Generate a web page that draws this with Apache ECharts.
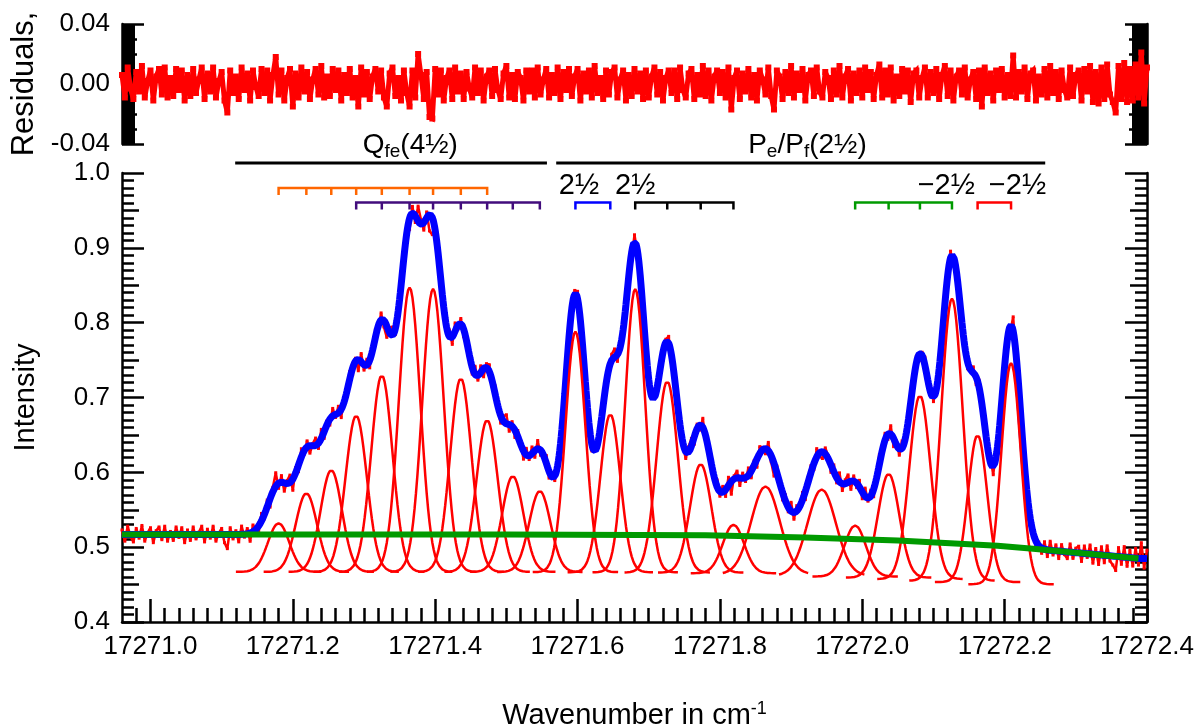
<!DOCTYPE html>
<html><head><meta charset="utf-8">
<script src="https://cdn.jsdelivr.net/npm/echarts@6/dist/echarts.min.js"></script>
<style>html,body{margin:0;padding:0;background:#fff}#c{width:1201px;height:728px}</style>
</head><body><div id="c"></div>
<script>
// ---------- data ----------
const xMin = 17270.96, xMax = 17272.40;
const xTickValues = [17271.0, 17271.2, 17271.4, 17271.6, 17271.8, 17272.0, 17272.2, 17272.4];
const intensityRange = [0.4, 1.0];
const residualRange = [-0.04, 0.04];

const peakCenters = [17271.180,17271.219,17271.254,17271.289,17271.325,17271.364,17271.397,17271.436,17271.473,17271.509,17271.547,
  17271.597,17271.646,17271.681,17271.726,17271.773,17271.819,17271.864,17271.943,17271.990,17272.037,17272.081,17272.126,17272.162,17272.209];
const peakTops = [0.532,0.572,0.603,0.676,0.730,0.847,0.845,0.726,0.670,0.595,0.575,
  0.788,0.678,0.845,0.722,0.611,0.530,0.581,0.577,0.529,0.598,0.703,0.832,0.650,0.746];
const peakSigmas = [0.015,0.015,0.015,0.015,0.015,0.015,0.015,0.015,0.015,0.015,0.015,
  0.014,0.014,0.014,0.015,0.015,0.015,0.020,0.020,0.015,0.015,0.015,0.015,0.0135,0.0135];

const baselineX = [17270.96,17271.50,17271.78,17271.92,17272.05,17272.19,17272.24,17272.29,17272.388];
const baselineY = [0.517,0.517,0.516,0.513,0.509,0.502,0.498,0.4935,0.485];

// residuals (units of 0.001), sampled every 0.004 cm-1 from xMin
const residualStep = 0.004;
const residuals = [
6,-9,11,-3,-10,8,-5,12,-9,2,9,-11,5,10,-7,11,-9,4,-8,10,
-4,9,-11,6,-8,10,-6,3,11,-10,7,-5,11,-9,2,8,-11,-19,9,-6,
5,-10,11,-4,7,-11,9,-2,-8,10,-6,9,-11,6,18,-7,9,-11,4,10,
-15,7,-9,11,-5,8,-10,3,10,-7,12,-9,5,-8,10,-4,9,-11,6,-6,
10,-9,4,-15,11,-7,8,-10,5,10,-5,9,-9,-15,7,11,-8,4,-11,9,
-6,-15,9,-9,20,6,-10,8,-22,-23,10,-7,9,-11,4,9,-10,11,-5,7,
-10,8,-3,-9,11,-6,9,-11,5,9,-8,10,-4,-10,7,12,-9,6,-10,8,
4,-11,9,-5,9,-9,11,-7,3,10,-9,6,-6,11,-10,8,-4,10,-8,5,
10,-11,7,-5,9,-9,12,-6,4,-10,9,-7,8,11,-9,3,9,-11,6,-8,
10,-5,7,-10,9,-9,5,11,-7,8,-11,4,9,-6,9,-10,11,-4,-9,7,
10,-10,6,-7,12,-8,9,-11,5,9,-6,8,-9,11,-17,4,9,-10,7,-5,
10,-9,6,-11,9,3,-7,11,-8,-17,9,5,-10,8,-6,12,-9,7,-4,10,
-11,6,9,-8,11,-5,-9,8,4,-10,9,-7,12,-9,5,10,-11,7,-6,9,
-9,11,-4,8,-10,6,13,-9,9,-7,11,-11,5,-8,10,-5,9,-12,7,9,
-9,4,11,-9,8,-6,10,-10,6,12,-8,9,-11,5,9,-7,11,-9,3,8,
-10,9,-15,11,-6,7,-11,9,-4,10,-9,6,-8,19,-9,8,-5,11,-10,7,
9,-11,5,-7,10,-9,12,-6,8,-10,9,-4,-9,11,-8,6,9,-11,10,-5,
12,-12,8,-13,11,-10,13,-7,-12,-19,12,-10,14,-12,10,-11,13,-9,21,-13,11];

// comb membership (peak indices)
const combOrange = [0,1,2,3,4,5,6,7,8];
const combPurple = [3,4,5,6,7,8,9,10];
const combBlue = [11,12];
const combBlack = [13,14,15,16];
const combGreen = [19,20,21,22];
const combRed = [23,24];

const bandNames = ['Q{s|fe}(4½)', 'P{s|e}/P{s|f}(2½)'];
const bandStarts = [17271.119, 17271.570];
const bandEnds = [17271.557, 17272.257];
const bandLabelX = [17271.365, 17271.923];
const branchLabels = ['2½', '2½', '\u22122½', '\u22122½'];
const branchLabelX = [17271.602, 17271.681, 17272.118, 17272.218];

// ---------- build ----------
const FONT = 'Liberation Sans, Arial, Helvetica, sans-serif';
function baselineAt(x){
  if (x <= baselineX[0]) return baselineY[0];
  for (let i = 1; i < baselineX.length; i++) {
    if (x <= baselineX[i]) {
      const t = (x - baselineX[i-1]) / (baselineX[i] - baselineX[i-1]);
      return baselineY[i-1] + t * (baselineY[i] - baselineY[i-1]);
    }
  }
  return baselineY[baselineY.length-1];
}
const compOffset = peakCenters.map(c => baselineAt(c) - 0.05);
const amps = peakTops.map((t, i) => t - compOffset[i]);
function g(x, i){ const d = x - peakCenters[i]; return Math.exp(-d*d/(2*peakSigmas[i]*peakSigmas[i])); }
function fitAt(x){ let s = baselineAt(x); for (let i = 0; i < peakCenters.length; i++) s += amps[i]*g(x, i); return s; }

const fitData = [];
for (let i = 0; i <= 1440; i++) { const x = xMin + i*0.001; fitData.push([x, fitAt(x)]); }
const resData = [], obsData = [];
residuals.forEach((r, i) => { const x = xMin + i*residualStep; resData.push([x, r/1000]); obsData.push([x, fitAt(x) + r/1000]); });
const baseData = baselineX.map((x, i) => [x, baselineY[i]]);

const series = [];
series.push({ type:'line', xAxisIndex:0, yAxisIndex:0, data:resData, clip:false, z:3,
  lineStyle:{color:'#ff0000', width:5, join:'miter', miterLimit:3}, symbol:'rect', symbolSize:6, showSymbol:true, showAllSymbol:true, itemStyle:{color:'#ff0000'} });
series.push({ type:'line', xAxisIndex:1, yAxisIndex:1, data:obsData, clip:false, z:2,
  lineStyle:{color:'#ff0000', width:2.5}, symbol:'rect', symbolSize:3, showSymbol:true, showAllSymbol:true, itemStyle:{color:'#ff0000'} });
series.push({ type:'line', xAxisIndex:1, yAxisIndex:1, data:fitData, z:3, showSymbol:false,
  lineStyle:{color:'#0000ff', width:7} });
peakCenters.forEach((c, i) => {
  const pts = [];
  for (let k = -30; k <= 30; k++) { const x = c + k*0.002; pts.push([x, compOffset[i] + amps[i]*g(x, i)]); }
  series.push({ type:'line', xAxisIndex:1, yAxisIndex:1, data:pts, z:4, showSymbol:false,
    lineStyle:{color:'#ff0000', width:2.5} });
});
series.push({ type:'line', xAxisIndex:1, yAxisIndex:1, data:baseData, z:5, showSymbol:false,
  lineStyle:{color:'#009a00', width:6} });

// band lines above the plot
bandStarts.forEach((s, i) => {
  series.push({ type:'line', xAxisIndex:1, yAxisIndex:1, data:[[s, 1.0134],[bandEnds[i], 1.0134]], clip:false, z:6,
    showSymbol:false, lineStyle:{color:'#000', width:3} });
});
function comb(idxs, level, color){
  const tl = 0.0095, pts = [];
  idxs.forEach((k, j) => {
    const x = peakCenters[k];
    if (j === 0) { pts.push([x, level - tl]); pts.push([x, level]); }
    else { pts.push([x, level]); pts.push([x, level - tl]); pts.push([x, level]); }
  });
  series.push({ type:'line', xAxisIndex:1, yAxisIndex:1, data:pts, clip:false, z:6, showSymbol:false,
    lineStyle:{color:color, width:2.5, join:'miter'} });
}
comb(combOrange, 0.980, '#ff6600');
comb(combPurple, 0.9607, '#420d7c');
comb(combBlue, 0.9607, '#0000ff');
comb(combBlack, 0.9607, '#000000');
comb(combGreen, 0.9607, '#009a00');
comb(combRed, 0.9607, '#ff0000');

const xMinorTicks = [];
for (let k = 1; k <= 72; k++) xMinorTicks.push(Math.round((xMin + 0.02*k)*100)/100);
const yMidTicks = [0.45,0.55,0.65,0.75,0.85,0.95];
const resMidTicks = [-0.03,-0.02,0.02,0.03];

function hiddenX(grid){ return { gridIndex:grid, type:'value', min:xMin, max:xMax, show:false }; }
const option = {
  animation:false,
  backgroundColor:'#fff',
  grid:[
    {left:122, right:54, top:24, height:120, containLabel:false, outerBoundsMode:'none'},
    {left:122, right:54, top:173, height:449, containLabel:false, outerBoundsMode:'none'}
  ],
  xAxis:[
    hiddenX(0),
    { gridIndex:1, type:'value', min:xMin, max:xMax, position:'bottom',
      axisLine:{show:true, onZero:false, lineStyle:{color:'#000', width:2.5}},
      axisTick:{show:true, inside:true, length:23, customValues:xTickValues, lineStyle:{color:'#000', width:2.5}},
      axisLabel:{show:true, customValues:xTickValues, formatter:v => v.toFixed(1), color:'#000', fontSize:26, fontFamily:FONT, margin:12, showMinLabel:true, showMaxLabel:true},
      splitLine:{show:false},
      name:'Wavenumber in cm{sup|-1}', nameLocation:'middle', nameGap:78,
      nameTextStyle:{color:'#000', fontSize:29, fontFamily:FONT, lineHeight:32,
        rich:{sup:{fontSize:18, fontFamily:FONT, color:'#000', lineHeight:16, verticalAlign:'top'}}}
    },
    { gridIndex:1, type:'value', min:xMin, max:xMax, position:'bottom',
      axisLine:{show:false, onZero:false},
      axisTick:{show:true, inside:true, length:14, customValues:xMinorTicks, lineStyle:{color:'#000', width:2.5}},
      axisLabel:{show:false}, splitLine:{show:false} }
  ],
  yAxis:[
    { gridIndex:0, type:'value', min:residualRange[0], max:residualRange[1], interval:0.04, position:'left',
      axisLine:{show:true, onZero:false, lineStyle:{color:'#000', width:2.5}},
      axisTick:{show:true, inside:true, length:22, lineStyle:{color:'#000', width:2.5}},
      minorTick:{show:true, splitNumber:40, length:13, lineStyle:{color:'#000', width:2.5}},
      axisLabel:{formatter:v => v.toFixed(2), color:'#000', fontSize:26, fontFamily:FONT, margin:12},
      splitLine:{show:false}, minorSplitLine:{show:false},
      name:'Residuals,', nameLocation:'middle', nameGap:80, nameRotate:90,
      nameTextStyle:{color:'#000', fontSize:31, fontFamily:FONT} },
    { gridIndex:1, type:'value', min:intensityRange[0], max:intensityRange[1], interval:0.1, position:'left',
      axisLine:{show:true, onZero:false, lineStyle:{color:'#000', width:2.5}},
      axisTick:{show:true, inside:true, length:22, lineStyle:{color:'#000', width:2.5}},
      minorTick:{show:true, splitNumber:10, length:12, lineStyle:{color:'#000', width:2.5}},
      axisLabel:{formatter:v => v.toFixed(1), color:'#000', fontSize:26, fontFamily:FONT, margin:12},
      splitLine:{show:false}, minorSplitLine:{show:false},
      name:'Intensity', nameLocation:'middle', nameGap:82, nameRotate:90,
      nameTextStyle:{color:'#000', fontSize:29, fontFamily:FONT} },
    { gridIndex:1, type:'value', min:intensityRange[0], max:intensityRange[1], position:'left',
      axisLine:{show:false, onZero:false},
      axisTick:{show:true, inside:true, length:17, customValues:yMidTicks, lineStyle:{color:'#000', width:2.5}},
      axisLabel:{show:false}, splitLine:{show:false} },
    { gridIndex:1, type:'value', min:intensityRange[0], max:intensityRange[1], interval:0.1, position:'right',
      axisLine:{show:true, onZero:false, lineStyle:{color:'#000', width:2.5}},
      axisTick:{show:true, inside:true, length:22, lineStyle:{color:'#000', width:2.5}},
      minorTick:{show:true, splitNumber:10, length:12, lineStyle:{color:'#000', width:2.5}},
      axisLabel:{show:false}, splitLine:{show:false}, minorSplitLine:{show:false} },
    { gridIndex:1, type:'value', min:intensityRange[0], max:intensityRange[1], position:'right',
      axisLine:{show:false, onZero:false},
      axisTick:{show:true, inside:true, length:17, customValues:yMidTicks, lineStyle:{color:'#000', width:2.5}},
      axisLabel:{show:false}, splitLine:{show:false} },
    { gridIndex:0, type:'value', min:residualRange[0], max:residualRange[1], position:'left',
      axisLine:{show:false, onZero:false},
      axisTick:{show:true, inside:true, length:15, customValues:resMidTicks, lineStyle:{color:'#000', width:2.5}},
      axisLabel:{show:false}, splitLine:{show:false} },
    { gridIndex:0, type:'value', min:residualRange[0], max:residualRange[1], interval:0.04, position:'right',
      axisLine:{show:true, onZero:false, lineStyle:{color:'#000', width:2.5}},
      axisTick:{show:true, inside:true, length:22, lineStyle:{color:'#000', width:2.5}},
      minorTick:{show:true, splitNumber:40, length:15, lineStyle:{color:'#000', width:2.5}},
      axisLabel:{show:false}, splitLine:{show:false}, minorSplitLine:{show:false} },
    { gridIndex:0, type:'value', min:residualRange[0], max:residualRange[1], position:'right',
      axisLine:{show:false, onZero:false},
      axisTick:{show:true, inside:true, length:18, customValues:resMidTicks, lineStyle:{color:'#000', width:2.5}},
      axisLabel:{show:false}, splitLine:{show:false} }
  ],
  series:series
};
const chart = echarts.init(document.getElementById('c'), null, {renderer:'canvas'});
chart.setOption(option);

const toPx = (x, y) => chart.convertToPixel({xAxisIndex:1, yAxisIndex:1}, [x, y]);
const graphics = [];
bandNames.forEach((t, i) => {
  const p = toPx(bandLabelX[i], 1.0365);
  graphics.push({ type:'text', x:p[0], y:p[1], z:10, style:{ text:t, fill:'#000', fontSize:28, fontFamily:FONT,
    lineHeight:32, align:'center', verticalAlign:'middle', textAlign:'center', textVerticalAlign:'middle',
    rich:{ s:{fontSize:19, fontFamily:FONT, fill:'#000', lineHeight:16, verticalAlign:'bottom'} } } });
});
branchLabels.forEach((t, i) => {
  const p = toPx(branchLabelX[i], 0.982);
  graphics.push({ type:'text', x:p[0], y:p[1], z:10, style:{ text:t, fill:'#000', fontSize:29, fontFamily:FONT,
    align:'center', verticalAlign:'middle', textAlign:'center', textVerticalAlign:'middle' } });
});
chart.setOption({graphic:graphics});
</script>
</body></html>
